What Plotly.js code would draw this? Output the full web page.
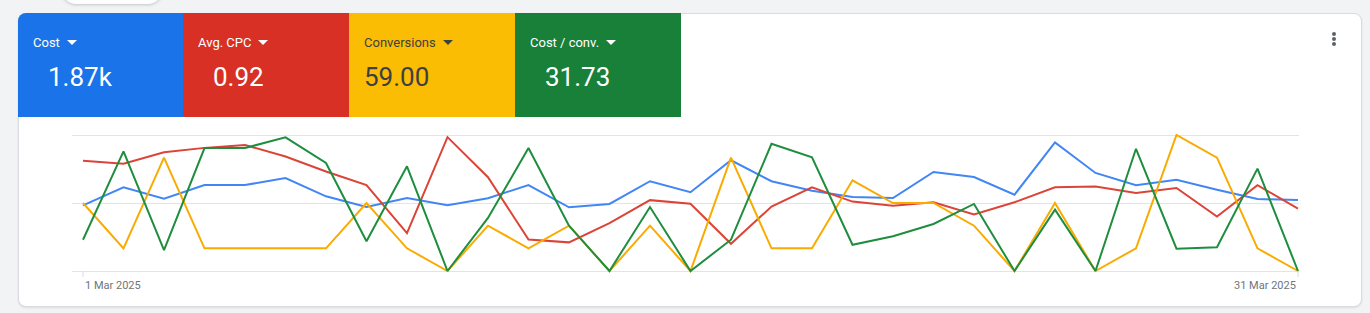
<!DOCTYPE html>
<html><head><meta charset="utf-8">
<script src="https://cdn.plot.ly/plotly-3.0.1.min.js"></script>
<style>
html,body{margin:0;padding:0;width:1370px;height:313px;overflow:hidden;background:#f1f3f4;font-family:Roboto,Arial,sans-serif;}
#tab{position:absolute;left:62px;top:-22px;width:100px;height:26px;background:#fff;border-radius:0 0 14px 14px;box-shadow:0 1px 3px rgba(60,64,67,.25);}
#card{position:absolute;left:18px;top:13px;width:1342px;height:292px;background:#fff;border:1px solid #dadce0;border-radius:8px;box-shadow:0 1px 2px rgba(60,64,67,.12);}
.tile{position:absolute;top:13px;height:104px;width:166px;}
.lab{position:absolute;top:22px;font-size:13px;font-weight:400;line-height:16px;white-space:nowrap;}
.lab::after{content:"";display:inline-block;margin-left:7px;border-left:5px solid transparent;border-right:5px solid transparent;border-top:5px solid currentColor;position:relative;top:-2px;}
.val{position:absolute;top:49px;font-size:26px;line-height:30px;white-space:nowrap;}
#chart{position:absolute;left:0;top:0;width:1370px;height:313px;}
.dot{position:absolute;left:1332px;width:4px;height:4px;border-radius:2px;background:#5f6368;}
</style></head>
<body>
<div id="tab"></div>
<div id="card"></div>
<div id="chart"></div>
<div class="tile" style="left:18px;background:#1a73e8;color:#fff;border-top-left-radius:8px;"><div class="lab" style="left:15px">Cost</div><div class="val" style="left:30px">1.87k</div></div>
<div class="tile" style="left:183px;background:#d93025;color:#fff;"><div class="lab" style="left:15px">Avg. CPC</div><div class="val" style="left:30px">0.92</div></div>
<div class="tile" style="left:349px;background:#fbbc04;color:#3c4043;"><div class="lab" style="left:15px">Conversions</div><div class="val" style="left:15px">59.00</div></div>
<div class="tile" style="left:515px;background:#188038;color:#fff;"><div class="lab" style="left:15px">Cost / conv.</div><div class="val" style="left:30px">31.73</div></div>
<div class="dot" style="top:32px"></div><div class="dot" style="top:37px"></div><div class="dot" style="top:42px"></div>
<script>
const dates = ['2025-03-01','2025-03-02','2025-03-03','2025-03-04','2025-03-05','2025-03-06','2025-03-07','2025-03-08','2025-03-09','2025-03-10','2025-03-11','2025-03-12','2025-03-13','2025-03-14','2025-03-15','2025-03-16','2025-03-17','2025-03-18','2025-03-19','2025-03-20','2025-03-21','2025-03-22','2025-03-23','2025-03-24','2025-03-25','2025-03-26','2025-03-27','2025-03-28','2025-03-29','2025-03-30','2025-03-31'];
const cost = [48.3,61.5,53.2,63.2,63.2,68.4,54.9,47.1,53.7,48.3,53.5,63.2,46.8,49.3,66.0,57.9,81.4,66.0,59.0,54.4,53.7,72.8,69.1,56.1,94.6,72.1,63.0,67.1,59.8,52.9,52.2];
const avgCpc = [1.54,1.50,1.66,1.72,1.76,1.60,1.39,1.20,0.53,1.87,1.31,0.44,0.40,0.67,0.99,0.94,0.38,0.90,1.17,0.97,0.91,0.96,0.79,0.96,1.17,1.18,1.09,1.16,0.76,1.20,0.87];
const conversions = [3,1,5,1,1,1,1,3,1,0,2,1,2,0,2,0,5,1,1,4,3,3,2,0,3,0,1,6,5,1,0];
const costPerConv = [16.1,61.6,10.7,63.3,63.3,68.8,55.6,15.3,53.9,0,27.3,63.3,23.3,0,32.9,0,16.1,65.5,58.5,13.5,17.9,24.2,34.5,0,31.6,0,62.9,11.5,12.2,52.7,0];
const axisMax = {cost:100, cpc:1.9, conv:6, cpconv:70};
const tickLabels = ['1 Mar 2025','31 Mar 2025'];

const pad = 4/136;
const rng = m => [-pad*m, m*(1+pad)];
const hidden = m => ({range:rng(m), overlaying:'y', visible:false, fixedrange:true});

const mk = (y, color, axis) => ({x:dates, y:y, type:'scatter', mode:'lines', yaxis:axis,
  line:{color:color, width:2, shape:'linear'}, hoverinfo:'skip'});

const data = [
  mk(cost,'#4285f4','y'),
  mk(avgCpc,'#db4437','y2'),
  mk(conversions,'#f9ab00','y3'),
  mk(costPerConv,'#1e8e3e','y4')
];

const bottomPaper = 4/144;
const layout = {
  width:1370, height:313,
  margin:{l:72, r:71, t:131, b:38},
  paper_bgcolor:'rgba(0,0,0,0)', plot_bgcolor:'rgba(0,0,0,0)',
  showlegend:false,
  xaxis:{type:'date', range:['2025-02-28 17:29','2025-03-31 00:36'], showgrid:false, zeroline:false,
    showticklabels:false, ticks:'', showline:false, fixedrange:true},
  yaxis:{range:rng(axisMax.cost), tickvals:[0, axisMax.cost/2, axisMax.cost], showticklabels:false,
    showgrid:true, gridcolor:'#e4e4e4', gridwidth:1, zeroline:false, showline:false, ticks:'', fixedrange:true},
  yaxis2:hidden(axisMax.cpc),
  yaxis3:hidden(axisMax.conv),
  yaxis4:hidden(axisMax.cpconv),
  shapes:[
    {type:'line', xref:'x', yref:'paper', x0:dates[0], x1:dates[0], y0:bottomPaper, y1:bottomPaper-6/144, line:{color:'#dadce0', width:1}},
    {type:'line', xref:'x', yref:'paper', x0:dates[dates.length-1], x1:dates[dates.length-1], y0:bottomPaper, y1:bottomPaper-6/144, line:{color:'#dadce0', width:1}}
  ],
  annotations:[
    {text:tickLabels[0], x:dates[0], xref:'x', xanchor:'left', y:-10/144, yref:'paper', yanchor:'middle', showarrow:false, font:{family:'Roboto, Arial', size:11, color:'#70757a'}},
    {text:tickLabels[1], x:dates[dates.length-1], xref:'x', xanchor:'right', y:-10/144, yref:'paper', yanchor:'middle', showarrow:false, font:{family:'Roboto, Arial', size:11, color:'#70757a'}}
  ]
};
Plotly.newPlot('chart', data, layout, {displayModeBar:false, staticPlot:true});
</script>
</body></html>
